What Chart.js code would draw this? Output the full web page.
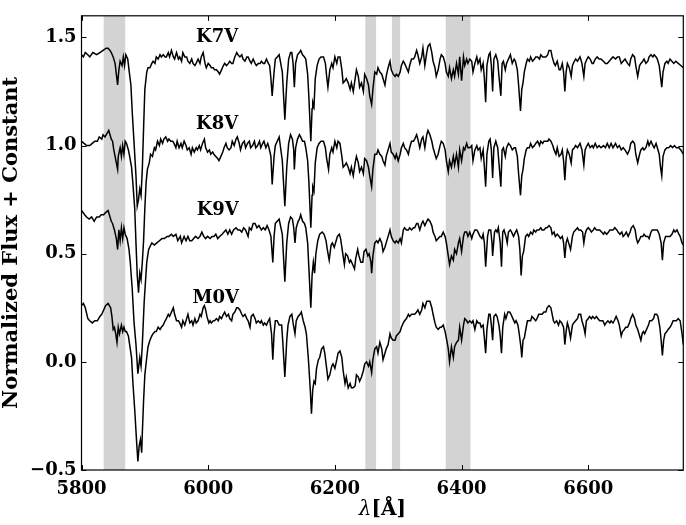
<!DOCTYPE html>
<html>
<head>
<meta charset="utf-8">
<script src="https://cdn.jsdelivr.net/npm/chart.js@4/dist/chart.umd.min.js"></script>
<style>
  html, body { margin: 0; padding: 0; background: #fff; }
  #wrap { width: 686px; height: 525px; }
</style>
</head>
<body>
<div id="wrap"><canvas id="c" width="686" height="525"></canvas></div>
<script>
// ---- Data (wavelength in Å, normalized flux + constant) ----
const k7v = [[5800,1.42],[5803,1.41],[5806,1.43],[5810,1.42],[5813,1.41],[5818,1.43],[5824,1.42],[5829,1.43],[5834,1.44],[5839,1.45],[5842,1.45],[5845,1.44],[5847,1.43],[5850,1.41],[5853,1.38],[5855,1.33],[5857,1.28],[5859,1.35],[5861,1.39],[5864,1.37],[5866,1.41],[5868,1.37],[5870,1.42],[5873,1.40],[5875,1.35],[5878,1.28],[5880,1.16],[5883,1.01],[5886,0.86],[5888,0.72],[5890,0.75],[5892,0.80],[5894,0.77],[5896,0.89],[5898,1.08],[5900,1.26],[5903,1.34],[5905,1.36],[5908,1.36],[5911,1.38],[5913,1.39],[5916,1.38],[5918,1.41],[5921,1.40],[5924,1.42],[5926,1.41],[5929,1.42],[5932,1.41],[5934,1.41],[5937,1.43],[5939,1.41],[5942,1.44],[5945,1.41],[5947,1.40],[5950,1.43],[5953,1.40],[5955,1.41],[5958,1.39],[5960,1.43],[5963,1.41],[5966,1.41],[5968,1.39],[5971,1.38],[5974,1.40],[5976,1.38],[5979,1.37],[5981,1.38],[5984,1.40],[5987,1.38],[5989,1.41],[5992,1.43],[5995,1.38],[5997,1.36],[6000,1.38],[6003,1.37],[6005,1.36],[6008,1.36],[6010,1.35],[6013,1.35],[6016,1.34],[6018,1.33],[6021,1.35],[6024,1.37],[6026,1.38],[6029,1.37],[6032,1.38],[6034,1.39],[6037,1.38],[6039,1.38],[6042,1.41],[6045,1.43],[6047,1.42],[6050,1.41],[6053,1.42],[6055,1.40],[6058,1.39],[6061,1.41],[6063,1.41],[6066,1.39],[6068,1.38],[6071,1.40],[6074,1.38],[6076,1.37],[6079,1.38],[6082,1.38],[6084,1.39],[6087,1.38],[6089,1.38],[6092,1.40],[6095,1.38],[6097,1.37],[6099,1.31],[6101,1.23],[6104,1.34],[6106,1.40],[6109,1.41],[6112,1.42],[6117,1.34],[6121,1.12],[6124,1.29],[6127,1.40],[6130,1.43],[6132,1.43],[6134,1.38],[6136,1.27],[6138,1.38],[6141,1.42],[6144,1.43],[6146,1.44],[6149,1.42],[6152,1.41],[6154,1.40],[6157,1.33],[6159,1.22],[6162,1.02],[6164,1.17],[6165,1.20],[6167,1.18],[6169,1.31],[6172,1.37],[6175,1.40],[6178,1.41],[6182,1.41],[6185,1.38],[6187,1.32],[6189,1.27],[6192,1.35],[6195,1.38],[6197,1.36],[6200,1.41],[6203,1.38],[6205,1.41],[6208,1.41],[6211,1.35],[6213,1.29],[6216,1.30],[6218,1.31],[6221,1.29],[6224,1.26],[6226,1.29],[6229,1.25],[6232,1.31],[6234,1.35],[6237,1.32],[6239,1.27],[6242,1.29],[6245,1.25],[6247,1.33],[6250,1.31],[6253,1.28],[6255,1.23],[6258,1.19],[6260,1.26],[6263,1.34],[6266,1.33],[6268,1.36],[6271,1.34],[6274,1.33],[6276,1.31],[6279,1.28],[6281,1.32],[6284,1.36],[6287,1.39],[6289,1.35],[6292,1.33],[6295,1.32],[6297,1.33],[6300,1.32],[6303,1.34],[6305,1.37],[6308,1.39],[6310,1.38],[6313,1.36],[6316,1.34],[6318,1.37],[6321,1.40],[6324,1.40],[6326,1.41],[6329,1.44],[6331,1.42],[6334,1.38],[6337,1.41],[6339,1.45],[6342,1.37],[6345,1.43],[6347,1.46],[6350,1.47],[6353,1.43],[6355,1.39],[6358,1.36],[6360,1.32],[6363,1.35],[6366,1.40],[6368,1.42],[6371,1.41],[6374,1.38],[6376,1.34],[6379,1.32],[6381,1.36],[6384,1.31],[6387,1.35],[6389,1.32],[6392,1.38],[6395,1.33],[6397,1.41],[6400,1.30],[6403,1.41],[6405,1.37],[6408,1.40],[6410,1.38],[6413,1.40],[6416,1.39],[6418,1.34],[6421,1.38],[6424,1.41],[6426,1.38],[6429,1.40],[6431,1.35],[6434,1.38],[6436,1.31],[6438,1.20],[6440,1.37],[6443,1.42],[6445,1.43],[6447,1.37],[6449,1.25],[6451,1.40],[6454,1.42],[6457,1.39],[6459,1.32],[6462,1.23],[6464,1.38],[6466,1.39],[6469,1.35],[6471,1.38],[6474,1.40],[6477,1.42],[6480,1.38],[6483,1.40],[6485,1.39],[6488,1.35],[6490,1.28],[6493,1.16],[6495,1.26],[6497,1.29],[6499,1.34],[6502,1.38],[6504,1.40],[6507,1.39],[6509,1.41],[6512,1.39],[6515,1.40],[6517,1.41],[6520,1.41],[6523,1.40],[6525,1.42],[6528,1.41],[6530,1.41],[6533,1.41],[6536,1.42],[6538,1.44],[6541,1.44],[6543,1.41],[6546,1.38],[6548,1.37],[6551,1.39],[6554,1.35],[6556,1.35],[6559,1.38],[6561,1.34],[6563,1.25],[6565,1.34],[6567,1.38],[6570,1.36],[6573,1.32],[6575,1.37],[6578,1.39],[6580,1.40],[6583,1.39],[6587,1.41],[6590,1.38],[6593,1.32],[6595,1.38],[6598,1.40],[6600,1.41],[6603,1.40],[6606,1.38],[6608,1.38],[6611,1.40],[6614,1.41],[6617,1.40],[6620,1.40],[6624,1.39],[6627,1.38],[6630,1.38],[6633,1.39],[6636,1.40],[6639,1.41],[6643,1.40],[6646,1.41],[6649,1.41],[6652,1.38],[6655,1.39],[6658,1.40],[6662,1.38],[6665,1.37],[6667,1.40],[6670,1.42],[6673,1.41],[6675,1.37],[6678,1.32],[6681,1.37],[6683,1.38],[6686,1.39],[6688,1.40],[6691,1.38],[6694,1.39],[6696,1.41],[6699,1.42],[6702,1.41],[6704,1.42],[6707,1.41],[6709,1.40],[6712,1.37],[6714,1.32],[6716,1.27],[6718,1.34],[6721,1.38],[6724,1.39],[6726,1.38],[6729,1.40],[6732,1.39],[6735,1.38],[6738,1.39],[6742,1.38],[6746,1.37],[6750,1.36]];

const k8v = [[5800,1.02],[5804,1.01],[5808,1.00],[5813,1.00],[5817,1.01],[5821,1.02],[5825,1.02],[5828,1.04],[5832,1.03],[5834,1.05],[5837,1.04],[5841,1.06],[5843,1.07],[5845,1.05],[5847,1.03],[5849,1.02],[5851,0.98],[5853,0.95],[5855,0.92],[5857,0.89],[5858,0.95],[5861,0.99],[5863,0.95],[5865,1.00],[5867,0.96],[5869,1.02],[5871,1.01],[5874,0.98],[5876,0.95],[5879,0.90],[5881,0.83],[5884,0.71],[5886,0.55],[5888,0.40],[5890,0.32],[5892,0.41],[5894,0.38],[5896,0.46],[5898,0.56],[5900,0.71],[5902,0.83],[5904,0.89],[5907,0.92],[5909,0.96],[5912,0.95],[5915,0.99],[5917,0.98],[5920,1.02],[5923,1.00],[5925,1.03],[5928,1.01],[5930,1.03],[5933,1.04],[5936,1.02],[5938,1.03],[5941,1.02],[5944,1.02],[5946,1.01],[5949,0.99],[5951,1.02],[5954,0.99],[5957,1.01],[5959,0.99],[5962,1.02],[5965,1.00],[5967,0.98],[5970,0.99],[5973,0.96],[5975,0.99],[5978,0.97],[5981,0.99],[5983,0.98],[5986,1.00],[5988,0.98],[5991,1.01],[5994,1.03],[5996,0.99],[5999,0.97],[6002,0.98],[6004,0.96],[6007,0.97],[6009,0.96],[6012,0.95],[6015,0.94],[6017,0.93],[6020,0.95],[6023,0.97],[6025,0.99],[6028,1.01],[6030,0.99],[6033,0.98],[6036,0.99],[6038,1.02],[6041,1.00],[6044,1.03],[6046,1.04],[6049,1.01],[6051,0.98],[6054,1.01],[6057,1.02],[6059,0.99],[6062,1.01],[6065,1.02],[6067,0.99],[6070,1.00],[6073,1.02],[6075,0.99],[6078,1.00],[6081,1.02],[6083,0.99],[6086,1.01],[6088,1.02],[6091,0.99],[6094,1.01],[6096,0.99],[6099,0.95],[6101,0.82],[6104,0.95],[6106,1.00],[6109,1.02],[6112,1.04],[6117,0.93],[6121,0.72],[6124,0.90],[6127,1.01],[6130,1.05],[6133,1.03],[6135,0.98],[6136,0.89],[6138,0.99],[6141,1.03],[6144,1.05],[6146,1.04],[6149,1.02],[6152,1.02],[6154,0.99],[6157,0.93],[6159,0.83],[6162,0.62],[6164,0.77],[6165,0.81],[6167,0.79],[6169,0.92],[6172,0.99],[6175,1.01],[6178,1.02],[6182,1.02],[6185,0.99],[6187,0.94],[6190,0.89],[6192,0.96],[6195,0.99],[6197,0.97],[6200,1.02],[6203,0.99],[6205,1.02],[6208,1.01],[6211,0.95],[6213,0.90],[6216,0.91],[6218,0.92],[6221,0.90],[6224,0.87],[6226,0.90],[6229,0.86],[6232,0.92],[6234,0.95],[6237,0.92],[6239,0.88],[6242,0.90],[6245,0.87],[6247,0.94],[6250,0.93],[6253,0.90],[6255,0.86],[6258,0.81],[6260,0.89],[6263,0.96],[6266,0.96],[6268,0.98],[6271,0.96],[6274,0.95],[6276,0.93],[6279,0.91],[6281,0.95],[6284,0.98],[6287,1.01],[6289,0.97],[6292,0.96],[6295,0.94],[6297,0.96],[6300,0.93],[6303,0.96],[6305,0.99],[6308,1.01],[6310,0.99],[6313,0.98],[6316,0.96],[6318,0.99],[6321,1.02],[6324,1.02],[6326,1.03],[6329,1.05],[6331,1.03],[6334,0.99],[6337,1.03],[6339,1.04],[6342,0.99],[6345,1.05],[6347,1.07],[6350,1.05],[6353,1.02],[6355,0.99],[6358,0.96],[6360,0.94],[6363,0.96],[6366,1.00],[6368,1.02],[6371,1.01],[6374,0.98],[6376,0.93],[6379,0.88],[6381,0.93],[6384,0.90],[6387,0.95],[6389,0.91],[6392,0.96],[6395,0.90],[6397,0.98],[6400,0.93],[6403,0.99],[6405,0.98],[6408,1.01],[6410,0.99],[6413,0.99],[6416,1.00],[6418,0.93],[6421,0.98],[6424,1.00],[6426,0.98],[6429,0.99],[6431,0.94],[6434,0.98],[6436,0.90],[6438,0.81],[6440,0.96],[6443,1.02],[6445,1.03],[6447,0.98],[6449,0.85],[6451,0.99],[6454,1.02],[6457,0.99],[6459,0.92],[6462,0.81],[6464,0.98],[6466,0.99],[6469,0.95],[6471,0.99],[6474,1.01],[6477,1.00],[6480,0.98],[6483,0.99],[6485,0.99],[6488,0.95],[6490,0.87],[6493,0.77],[6495,0.86],[6497,0.89],[6499,0.94],[6502,0.98],[6504,0.99],[6507,0.99],[6509,1.01],[6512,0.99],[6515,1.00],[6517,1.01],[6520,1.02],[6523,1.00],[6525,1.02],[6528,1.01],[6530,1.02],[6533,1.02],[6536,1.02],[6538,1.03],[6541,1.02],[6544,1.00],[6546,0.98],[6549,0.96],[6551,0.99],[6554,0.95],[6557,0.96],[6559,0.98],[6561,0.93],[6563,0.84],[6565,0.94],[6567,0.98],[6570,0.96],[6573,0.92],[6575,0.98],[6578,0.99],[6580,1.00],[6583,0.99],[6587,1.01],[6590,0.98],[6593,0.91],[6595,0.98],[6598,1.00],[6600,1.01],[6603,0.99],[6606,1.00],[6608,0.99],[6611,1.01],[6614,0.99],[6617,1.00],[6620,0.99],[6624,1.00],[6627,0.99],[6630,1.01],[6633,0.99],[6636,1.01],[6639,0.99],[6643,1.01],[6646,0.99],[6649,1.00],[6652,0.98],[6655,0.99],[6658,0.98],[6662,0.96],[6665,0.98],[6667,1.01],[6670,1.02],[6673,1.01],[6675,0.96],[6678,0.92],[6681,0.96],[6683,0.98],[6686,0.99],[6688,0.98],[6691,0.99],[6694,1.02],[6696,1.00],[6699,1.02],[6702,1.00],[6704,0.99],[6707,1.01],[6709,0.99],[6712,0.96],[6714,0.90],[6716,0.86],[6718,0.95],[6721,0.98],[6724,0.99],[6727,0.99],[6730,1.00],[6733,0.99],[6736,1.00],[6739,0.99],[6743,0.99],[6746,0.98],[6750,0.96]];

const k9v = [[5800,0.70],[5805,0.68],[5808,0.67],[5812,0.66],[5816,0.67],[5820,0.65],[5824,0.67],[5828,0.67],[5831,0.68],[5835,0.68],[5838,0.69],[5842,0.70],[5844,0.68],[5847,0.65],[5849,0.64],[5852,0.61],[5855,0.57],[5857,0.52],[5859,0.61],[5861,0.56],[5863,0.62],[5865,0.57],[5867,0.62],[5869,0.59],[5872,0.57],[5875,0.52],[5877,0.46],[5880,0.34],[5883,0.18],[5886,0.08],[5889,-0.055],[5892,0.02],[5894,-0.02],[5896,0.08],[5899,0.28],[5903,0.46],[5906,0.52],[5911,0.55],[5915,0.54],[5919,0.55],[5923,0.56],[5927,0.57],[5931,0.57],[5935,0.58],[5938,0.58],[5942,0.59],[5945,0.58],[5949,0.59],[5952,0.56],[5956,0.58],[5958,0.55],[5962,0.58],[5965,0.56],[5968,0.58],[5971,0.56],[5974,0.56],[5977,0.57],[5980,0.58],[5984,0.57],[5987,0.58],[5990,0.60],[5993,0.58],[5996,0.57],[5999,0.58],[6003,0.57],[6006,0.58],[6009,0.58],[6012,0.59],[6015,0.57],[6018,0.58],[6022,0.59],[6025,0.60],[6028,0.61],[6031,0.59],[6034,0.61],[6037,0.59],[6040,0.61],[6044,0.62],[6047,0.61],[6050,0.61],[6053,0.60],[6056,0.62],[6059,0.61],[6063,0.58],[6065,0.62],[6068,0.61],[6071,0.64],[6074,0.64],[6077,0.62],[6080,0.63],[6084,0.61],[6087,0.62],[6090,0.61],[6093,0.63],[6096,0.61],[6099,0.58],[6102,0.46],[6104,0.58],[6106,0.64],[6109,0.65],[6112,0.66],[6117,0.59],[6121,0.37],[6124,0.55],[6127,0.64],[6130,0.67],[6133,0.66],[6135,0.62],[6137,0.55],[6139,0.62],[6142,0.65],[6144,0.66],[6146,0.68],[6149,0.65],[6152,0.64],[6154,0.62],[6157,0.55],[6159,0.43],[6162,0.25],[6164,0.40],[6166,0.46],[6168,0.41],[6170,0.50],[6173,0.56],[6176,0.59],[6180,0.60],[6183,0.59],[6186,0.56],[6188,0.52],[6191,0.47],[6194,0.54],[6196,0.55],[6199,0.53],[6202,0.56],[6204,0.58],[6207,0.59],[6209,0.57],[6212,0.51],[6215,0.45],[6217,0.50],[6220,0.49],[6223,0.46],[6225,0.47],[6228,0.45],[6231,0.43],[6233,0.48],[6236,0.52],[6238,0.49],[6241,0.46],[6244,0.46],[6246,0.51],[6249,0.52],[6252,0.49],[6254,0.50],[6257,0.46],[6258,0.41],[6260,0.49],[6263,0.55],[6266,0.56],[6268,0.55],[6271,0.57],[6274,0.55],[6276,0.51],[6279,0.53],[6281,0.55],[6284,0.58],[6287,0.61],[6289,0.58],[6292,0.56],[6295,0.55],[6297,0.56],[6300,0.55],[6303,0.57],[6305,0.55],[6308,0.61],[6310,0.62],[6313,0.61],[6316,0.61],[6318,0.62],[6321,0.61],[6324,0.62],[6326,0.62],[6329,0.64],[6331,0.64],[6334,0.61],[6337,0.64],[6339,0.65],[6342,0.63],[6345,0.65],[6347,0.66],[6350,0.65],[6353,0.63],[6355,0.60],[6358,0.58],[6360,0.56],[6363,0.57],[6366,0.58],[6368,0.58],[6371,0.60],[6374,0.58],[6376,0.55],[6379,0.49],[6381,0.45],[6384,0.49],[6387,0.47],[6389,0.52],[6392,0.50],[6395,0.55],[6397,0.57],[6400,0.51],[6403,0.58],[6405,0.60],[6408,0.60],[6410,0.58],[6413,0.60],[6416,0.57],[6418,0.59],[6421,0.61],[6424,0.61],[6426,0.60],[6429,0.58],[6432,0.57],[6434,0.59],[6436,0.55],[6438,0.44],[6441,0.58],[6443,0.61],[6446,0.61],[6448,0.55],[6449,0.49],[6452,0.60],[6454,0.61],[6456,0.60],[6458,0.62],[6461,0.55],[6463,0.44],[6465,0.60],[6467,0.61],[6470,0.58],[6472,0.55],[6474,0.60],[6477,0.61],[6479,0.60],[6482,0.58],[6485,0.60],[6487,0.61],[6490,0.58],[6492,0.52],[6494,0.40],[6496,0.49],[6498,0.51],[6501,0.58],[6504,0.59],[6506,0.58],[6509,0.60],[6512,0.59],[6514,0.61],[6517,0.60],[6519,0.61],[6522,0.61],[6525,0.62],[6527,0.61],[6530,0.61],[6533,0.62],[6535,0.62],[6538,0.63],[6541,0.62],[6543,0.59],[6546,0.60],[6548,0.58],[6551,0.59],[6554,0.58],[6556,0.57],[6559,0.58],[6561,0.55],[6563,0.48],[6565,0.55],[6567,0.57],[6569,0.55],[6572,0.52],[6575,0.58],[6577,0.60],[6580,0.61],[6583,0.62],[6585,0.61],[6588,0.61],[6591,0.60],[6593,0.55],[6595,0.59],[6597,0.61],[6600,0.62],[6603,0.61],[6605,0.60],[6608,0.61],[6610,0.62],[6613,0.61],[6616,0.61],[6618,0.61],[6621,0.60],[6624,0.59],[6626,0.60],[6629,0.59],[6632,0.60],[6634,0.61],[6637,0.61],[6639,0.61],[6642,0.62],[6645,0.61],[6647,0.60],[6650,0.59],[6653,0.60],[6655,0.58],[6658,0.59],[6660,0.60],[6663,0.58],[6666,0.60],[6668,0.62],[6671,0.63],[6674,0.61],[6676,0.57],[6678,0.55],[6680,0.56],[6683,0.58],[6686,0.58],[6688,0.59],[6691,0.58],[6694,0.58],[6696,0.57],[6699,0.60],[6701,0.61],[6704,0.61],[6707,0.61],[6709,0.61],[6712,0.59],[6715,0.55],[6717,0.47],[6719,0.55],[6722,0.58],[6724,0.58],[6727,0.58],[6729,0.58],[6732,0.59],[6735,0.61],[6737,0.60],[6740,0.61],[6743,0.59],[6745,0.58],[6748,0.55],[6750,0.54]];

const m0v = [[5800,0.26],[5803,0.27],[5806,0.25],[5810,0.20],[5813,0.19],[5817,0.18],[5821,0.19],[5825,0.19],[5829,0.21],[5832,0.22],[5835,0.24],[5838,0.26],[5842,0.27],[5844,0.26],[5846,0.25],[5848,0.21],[5850,0.15],[5852,0.16],[5854,0.13],[5856,0.09],[5858,0.16],[5860,0.13],[5863,0.17],[5865,0.14],[5867,0.16],[5869,0.14],[5871,0.14],[5874,0.12],[5876,0.08],[5879,0.02],[5881,-0.09],[5884,-0.22],[5887,-0.37],[5889,-0.46],[5891,-0.39],[5893,-0.36],[5895,-0.42],[5896,-0.33],[5898,-0.18],[5900,-0.06],[5903,0.02],[5905,0.07],[5908,0.10],[5911,0.12],[5913,0.13],[5916,0.14],[5918,0.14],[5921,0.16],[5924,0.15],[5926,0.16],[5929,0.17],[5932,0.19],[5934,0.20],[5937,0.22],[5939,0.21],[5942,0.23],[5945,0.25],[5947,0.22],[5950,0.19],[5953,0.19],[5955,0.18],[5958,0.16],[5960,0.19],[5963,0.17],[5966,0.20],[5968,0.22],[5971,0.18],[5974,0.19],[5976,0.17],[5979,0.20],[5981,0.18],[5984,0.19],[5987,0.22],[5989,0.21],[5992,0.25],[5994,0.26],[5996,0.24],[5998,0.21],[6001,0.18],[6003,0.19],[6005,0.18],[6008,0.19],[6010,0.19],[6013,0.20],[6016,0.19],[6018,0.21],[6021,0.20],[6024,0.22],[6026,0.23],[6029,0.21],[6032,0.22],[6034,0.20],[6037,0.19],[6039,0.22],[6042,0.23],[6045,0.25],[6047,0.25],[6050,0.24],[6053,0.22],[6055,0.21],[6058,0.22],[6061,0.20],[6063,0.19],[6066,0.16],[6068,0.21],[6071,0.22],[6074,0.20],[6076,0.18],[6079,0.19],[6082,0.18],[6084,0.19],[6087,0.17],[6089,0.18],[6092,0.17],[6095,0.19],[6097,0.20],[6100,0.13],[6102,0.01],[6104,0.13],[6106,0.19],[6109,0.19],[6112,0.17],[6116,0.17],[6118,0.08],[6121,-0.07],[6124,0.10],[6126,0.17],[6129,0.21],[6132,0.22],[6134,0.18],[6137,0.13],[6139,0.19],[6142,0.21],[6145,0.22],[6147,0.23],[6150,0.19],[6153,0.16],[6155,0.13],[6158,0.02],[6161,-0.12],[6163,-0.24],[6165,-0.13],[6167,-0.09],[6169,-0.10],[6171,-0.03],[6174,0.01],[6176,0.02],[6179,0.06],[6182,0.07],[6184,0.04],[6187,-0.03],[6189,-0.08],[6192,-0.06],[6195,-0.02],[6197,-0.01],[6200,-0.03],[6203,0.01],[6205,0.04],[6208,0.05],[6211,0.02],[6213,-0.04],[6216,-0.10],[6218,-0.07],[6221,-0.12],[6224,-0.10],[6226,-0.12],[6229,-0.12],[6232,-0.11],[6234,-0.06],[6237,-0.07],[6239,-0.09],[6242,-0.07],[6245,-0.04],[6247,-0.01],[6250,0.00],[6253,-0.02],[6255,0.00],[6258,-0.05],[6260,0.01],[6263,0.06],[6266,0.07],[6268,0.04],[6271,0.09],[6274,0.06],[6276,0.01],[6279,0.04],[6281,0.06],[6284,0.08],[6287,0.13],[6289,0.11],[6292,0.10],[6295,0.10],[6297,0.12],[6300,0.13],[6303,0.14],[6305,0.16],[6308,0.18],[6310,0.19],[6313,0.20],[6316,0.22],[6318,0.21],[6321,0.22],[6324,0.22],[6326,0.22],[6329,0.23],[6331,0.24],[6334,0.22],[6337,0.24],[6339,0.27],[6342,0.25],[6345,0.28],[6347,0.28],[6350,0.28],[6353,0.25],[6355,0.22],[6358,0.18],[6360,0.16],[6363,0.15],[6366,0.16],[6368,0.16],[6371,0.17],[6374,0.14],[6376,0.11],[6379,0.06],[6381,0.00],[6384,0.07],[6387,0.02],[6389,0.07],[6392,0.09],[6395,0.10],[6397,0.16],[6400,0.10],[6403,0.17],[6405,0.20],[6408,0.19],[6410,0.18],[6413,0.19],[6416,0.18],[6418,0.19],[6421,0.15],[6424,0.19],[6426,0.18],[6429,0.18],[6431,0.16],[6434,0.17],[6436,0.11],[6438,0.04],[6440,0.15],[6443,0.22],[6445,0.22],[6447,0.17],[6449,0.10],[6451,0.21],[6454,0.22],[6456,0.21],[6459,0.17],[6461,0.12],[6463,0.04],[6465,0.16],[6468,0.22],[6470,0.20],[6473,0.23],[6476,0.23],[6478,0.22],[6481,0.20],[6484,0.18],[6486,0.19],[6489,0.17],[6491,0.13],[6494,0.06],[6495,0.02],[6497,0.10],[6499,0.11],[6502,0.16],[6504,0.19],[6506,0.19],[6509,0.19],[6511,0.21],[6514,0.20],[6517,0.19],[6519,0.20],[6522,0.22],[6525,0.22],[6527,0.22],[6530,0.23],[6533,0.23],[6535,0.25],[6538,0.26],[6541,0.25],[6543,0.22],[6545,0.19],[6547,0.18],[6550,0.19],[6553,0.17],[6555,0.19],[6558,0.18],[6561,0.16],[6563,0.08],[6565,0.14],[6567,0.18],[6569,0.16],[6572,0.11],[6575,0.17],[6577,0.18],[6580,0.19],[6583,0.20],[6585,0.22],[6588,0.22],[6590,0.19],[6593,0.16],[6595,0.13],[6597,0.19],[6600,0.20],[6602,0.21],[6605,0.20],[6607,0.21],[6610,0.20],[6613,0.21],[6615,0.20],[6618,0.19],[6620,0.19],[6623,0.19],[6626,0.17],[6628,0.18],[6631,0.19],[6634,0.18],[6636,0.19],[6639,0.18],[6641,0.19],[6644,0.21],[6647,0.19],[6649,0.17],[6652,0.12],[6654,0.14],[6657,0.15],[6659,0.16],[6662,0.16],[6665,0.18],[6667,0.20],[6670,0.22],[6673,0.20],[6675,0.17],[6678,0.15],[6680,0.13],[6683,0.10],[6685,0.13],[6687,0.14],[6689,0.13],[6692,0.15],[6695,0.17],[6697,0.19],[6700,0.19],[6703,0.20],[6705,0.22],[6708,0.22],[6710,0.21],[6713,0.16],[6715,0.10],[6717,0.03],[6719,0.10],[6721,0.13],[6724,0.14],[6726,0.15],[6729,0.16],[6731,0.17],[6734,0.19],[6737,0.19],[6739,0.19],[6742,0.20],[6745,0.19],[6748,0.13],[6750,0.08]];

// Shaded wavelength bands [start, end] in Å
const bands = [[5835,5869],[6248,6265],[6290,6303],[6375,6414]];
// Spectral type labels: [text, wavelength, flux]
const typeLabels = [["K7V",6014,1.50],["K8V",6014,1.10],["K9V",6015,0.70],["M0V",6012,0.295]];
// Axis ticks
const xTicks = [5800,6000,6200,6400,6600];
const yTicks = [-0.5,0.0,0.5,1.0,1.5];
const xRange = [5800,6750];
const yRange = [-0.5,1.6];

const SERIF = '"DejaVu Serif", "Liberation Serif", serif';

const toXY = arr => arr.map(p => ({x: p[0], y: p[1]}));
const mkSet = (label, arr) => ({
  label, data: toXY(arr), borderColor: '#000', borderWidth: 1.5,
  pointRadius: 0, tension: 0, fill: false
});

const decor = {
  id: 'decor',
  beforeDatasetsDraw(chart) {
    const {ctx, chartArea: a, scales: {x}} = chart;
    ctx.save();
    ctx.fillStyle = '#d3d3d3';
    for (const [lo, hi] of bands) {
      const x0 = x.getPixelForValue(lo), x1 = x.getPixelForValue(hi);
      ctx.fillRect(x0, a.top, x1 - x0, a.bottom - a.top);
    }
    ctx.restore();
  },
  afterDatasetsDraw(chart) {
    const {ctx, chartArea: a, scales: {x, y}} = chart;
    ctx.save();
    ctx.fillStyle = '#000';
    ctx.font = 'bold 18px ' + SERIF;
    ctx.textAlign = 'center';
    ctx.textBaseline = 'middle';
    for (const [t, wl, fl] of typeLabels) {
      ctx.fillText(t, x.getPixelForValue(wl), y.getPixelForValue(fl));
    }
    // frame
    ctx.strokeStyle = '#000';
    ctx.lineWidth = 1.2;
    ctx.strokeRect(a.left, a.top, a.right - a.left, a.bottom - a.top);
    // inward ticks
    ctx.lineWidth = 1;
    const tl = 5;
    ctx.beginPath();
    for (const v of xTicks) {
      const px = Math.round(x.getPixelForValue(v)) + 0.5;
      ctx.moveTo(px, a.bottom); ctx.lineTo(px, a.bottom - tl);
      ctx.moveTo(px, a.top); ctx.lineTo(px, a.top + tl);
    }
    for (const v of yTicks) {
      const py = Math.round(y.getPixelForValue(v)) + 0.5;
      ctx.moveTo(a.left, py); ctx.lineTo(a.left + tl, py);
      ctx.moveTo(a.right, py); ctx.lineTo(a.right - tl, py);
    }
    ctx.stroke();
    ctx.restore();
  },
  afterDraw(chart) {
    const {ctx, chartArea: a} = chart;
    ctx.save();
    ctx.fillStyle = '#000';
    // y title
    ctx.font = 'bold 21px ' + SERIF;
    ctx.textAlign = 'center';
    ctx.textBaseline = 'middle';
    ctx.translate(12, (a.top + a.bottom) / 2);
    ctx.rotate(-Math.PI / 2);
    ctx.fillText('Normalized Flux + Constant', 0, 0);
    ctx.restore();
    // x title: italic lambda + bold [Å]
    ctx.save();
    ctx.fillStyle = '#000';
    ctx.textBaseline = 'middle';
    ctx.textAlign = 'left';
    const f1 = 'italic 20px ' + SERIF, f2 = 'bold 20px ' + SERIF;
    ctx.font = f1; const w1 = ctx.measureText('λ').width;
    ctx.font = f2; const w2 = ctx.measureText('[Å]').width;
    const cx = (a.left + a.right) / 2, cy = 510;
    let sx = cx - (w1 + w2) / 2;
    ctx.font = f1; ctx.fillText('λ', sx, cy);
    ctx.font = f2; ctx.fillText('[Å]', sx + w1, cy);
    ctx.restore();
  }
};

new Chart(document.getElementById('c'), {
  type: 'line',
  data: { datasets: [mkSet('K7V', k7v), mkSet('K8V', k8v), mkSet('K9V', k9v), mkSet('M0V', m0v)] },
  options: {
    responsive: false,
    animation: false,
    devicePixelRatio: 1,
    layout: { padding: { left: 0, right: 2.7, top: 2, bottom: 0 } },
    plugins: { legend: { display: false }, tooltip: { enabled: false } },
    scales: {
      x: {
        type: 'linear', min: xRange[0], max: xRange[1],
        afterBuildTicks: s => { s.ticks = xTicks.map(v => ({value: v})); },
        afterFit: s => { s.height = 55; },
        grid: { display: false, drawTicks: false },
        border: { display: false },
        ticks: { color: '#000', padding: 9, maxRotation: 0, autoSkip: false,
                 font: { family: SERIF, size: 18, weight: 'bold' },
                 callback: v => String(v) }
      },
      y: {
        type: 'linear', min: yRange[0], max: yRange[1],
        afterBuildTicks: s => { s.ticks = yTicks.map(v => ({value: v})); },
        afterFit: s => { s.width = 81.5; },
        grid: { display: false, drawTicks: false },
        border: { display: false },
        ticks: { color: '#000', padding: 5, autoSkip: false,
                 font: { family: SERIF, size: 18, weight: 'bold' },
                 callback: v => (v < 0 ? '\u2212' : '') + Math.abs(v).toFixed(1) }
      }
    }
  },
  plugins: [decor]
});
</script>
</body>
</html>
